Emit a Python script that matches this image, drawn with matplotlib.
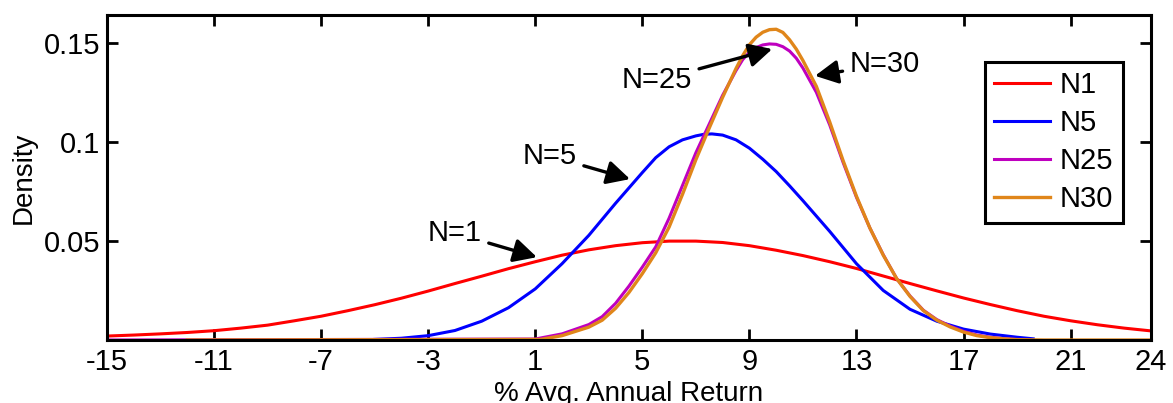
import matplotlib
matplotlib.use('Agg')
import matplotlib.pyplot as plt

# ==========================================
# data
# ==========================================
x_n1 = [-15, -14, -13, -12, -11, -10, -9, -8, -7, -6, -5, -4, -3, -2, -1, 0, 1, 2, 3, 4,
        5, 6, 7, 8, 9, 10, 11, 12, 13, 14, 15, 16, 17, 18, 19, 20, 21, 22, 23, 24]
y_n1 = [0.0020, 0.0025, 0.0031, 0.0038, 0.0047, 0.0060, 0.0075, 0.0097, 0.0120, 0.0148,
        0.0178, 0.0211, 0.0247, 0.0285, 0.0322, 0.0360, 0.0395, 0.0428, 0.0455, 0.0476,
        0.0491, 0.0499, 0.0499, 0.0492, 0.0476, 0.0453, 0.0426, 0.0395, 0.0361, 0.0323,
        0.0285, 0.0248, 0.0212, 0.0179, 0.0148, 0.0120, 0.0097, 0.0077, 0.0060, 0.0046]

x_n5 = [-5, -4, -3, -2, -1, 0, 1, 2, 3, 4, 5, 5.5, 6, 6.5, 7, 7.3, 7.6, 8, 8.5, 9, 9.5,
        10, 10.5, 11, 12, 13, 14, 15, 16, 17, 18, 19, 19.6]
y_n5 = [0.0003, 0.0009, 0.0022, 0.0048, 0.0095, 0.0163, 0.0258, 0.0385, 0.0528, 0.0690,
        0.0845, 0.0920, 0.0975, 0.1010, 0.1030, 0.1038, 0.1040, 0.1034, 0.1010, 0.0968,
        0.0912, 0.0850, 0.0778, 0.0703, 0.0548, 0.0385, 0.0250, 0.0155, 0.0095, 0.0055,
        0.0030, 0.0014, 0.0006]

x_n25 = [-15, 1, 2, 3, 3.5, 4, 4.5, 5, 5.5, 6, 6.5, 7, 7.5, 8, 8.5, 8.75, 9, 9.25, 9.5,
         9.75, 10, 10.25, 10.5, 10.75, 11, 11.5, 12, 12.5, 13, 13.5, 14, 14.5, 15, 15.5,
         16, 16.5, 17, 17.5, 18, 18.5, 19]
y_n25 = [0.0, 0.0005, 0.0031, 0.0078, 0.0118, 0.0185, 0.0272, 0.0368, 0.0470, 0.0615,
         0.0780, 0.0945, 0.1090, 0.1235, 0.1360, 0.1415, 0.1452, 0.1476, 0.1489, 0.1494,
         0.1492, 0.1480, 0.1458, 0.1422, 0.1372, 0.1250, 0.1085, 0.0896, 0.0720, 0.0565,
         0.0430, 0.0310, 0.0222, 0.0150, 0.0103, 0.0070, 0.0044, 0.0025, 0.0014, 0.0007,
         0.0002]

x_n30 = [-12, 1.2, 2, 3, 3.5, 4, 4.5, 5, 5.5, 6, 6.5, 7, 7.5, 8, 8.5, 8.75, 9, 9.25, 9.5,
         9.75, 10, 10.25, 10.5, 10.75, 11, 11.5, 12, 12.5, 13, 13.5, 14, 14.5, 15, 15.5,
         16, 16.5, 17, 17.5, 18, 18.5, 19, 20, 24]
y_n30 = [0.0, 0.0003, 0.0022, 0.0065, 0.0100, 0.0160, 0.0240, 0.0335, 0.0440, 0.0570,
         0.0735, 0.0910, 0.1070, 0.1225, 0.1370, 0.1435, 0.1490, 0.1528, 0.1553, 0.1566,
         0.1568, 0.1552, 0.1515, 0.1468, 0.1410, 0.1280, 0.1100, 0.0905, 0.0725, 0.0565,
         0.0428, 0.0310, 0.0220, 0.0148, 0.0100, 0.0066, 0.0040, 0.0022, 0.0012, 0.0006,
         0.0002, 0.0, 0.0]

series_labels = ['N1', 'N5', 'N25', 'N30']
x_ticks = [-15, -11, -7, -3, 1, 5, 9, 13, 17, 21, 24]
y_ticks = [0.05, 0.1, 0.15]

# notes: text, arrow tip (x, y), text centre (x, y)
notes = [
    ('N=1', (1.06, 0.0418), (-2.0, 0.0539)),
    ('N=5', (4.54, 0.0812), (1.55, 0.0928)),
    ('N=25', (9.85, 0.1468), (5.55, 0.1311)),
    ('N=30', (11.45, 0.1333), (14.05, 0.1392)),
]

# ==========================================
# plot
# ==========================================
plt.rcParams['font.family'] = ['Liberation Sans', 'DejaVu Sans']

fig = plt.figure(figsize=(11.73, 4.03), dpi=100)
ax = fig.add_axes([0.0912, 0.1563, 0.8900, 0.8065])

ax.plot(x_n1, y_n1, color='#FF0000', lw=2.2, label=series_labels[0])
ax.plot(x_n5, y_n5, color='#0000FF', lw=2.2, label=series_labels[1])
ax.plot(x_n25, y_n25, color='#BF00BF', lw=2.2, label=series_labels[2])
ax.plot(x_n30, y_n30, color='#E0861A', lw=2.4, label=series_labels[3])

for txt, tip, pos in notes:
    ax.annotate(txt, xy=tip, xytext=pos, ha='center', va='center', fontsize=21,
                arrowprops=dict(arrowstyle='-|>,head_length=0.7,head_width=0.36',
                                color='black', lw=2.4, mutation_scale=20,
                                shrinkA=3, shrinkB=0))

ax.set_xlim(-15, 24)
ax.set_ylim(0, 0.164)
ax.set_xticks(x_ticks)
ax.set_xticklabels([str(v) for v in x_ticks])
ax.set_yticks(y_ticks)
ax.set_yticklabels(['0.05', '0.1', '0.15'])

ax.tick_params(direction='in', top=True, right=True, length=8, width=2,
               labelsize=21)
ax.tick_params(axis='x', pad=6)
ax.tick_params(axis='y', pad=5)
for sp in ax.spines.values():
    sp.set_linewidth(2.2)

ax.set_xlabel('% Avg. Annual Return', fontsize=20, labelpad=3)
ax.set_ylabel('Density', fontsize=20, labelpad=5)

leg = ax.legend(loc='upper right', bbox_to_anchor=(0.973, 0.855), borderaxespad=0,
                fontsize=21, fancybox=False, framealpha=1, edgecolor='black',
                handlelength=1.9, handletextpad=0.35, labelspacing=0.34,
                borderpad=0.32)
leg.get_frame().set_linewidth(2.2)

fig.savefig('out.png', dpi=100)
